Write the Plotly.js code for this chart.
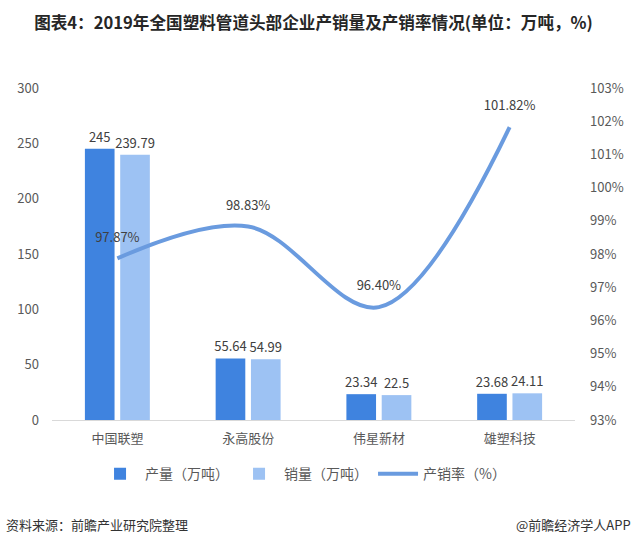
<!DOCTYPE html>
<html>
<head>
<meta charset="utf-8">
<script src="https://cdn.plot.ly/plotly-3.0.1.min.js"></script>
<style>html,body{margin:0;padding:0;background:#fff;}#chart{width:637px;height:545px;}</style>
</head>
<body>
<div id="chart"></div>
<script>
var categories = ['中国联塑', '永高股份', '伟星新材', '雄塑科技'];
var production = [245, 55.64, 23.34, 23.68];
var sales = [239.79, 54.99, 22.5, 24.11];
var rate = [0.9787, 0.9883, 0.9640, 1.0182];
var productionLabels = ['245', '55.64', '23.34', '23.68'];
var salesLabels = ['239.79', '54.99', '22.5', '24.11'];
var rateLabels = ['97.87%', '98.83%', '96.40%', '101.82%'];

var FONT = '"Noto Sans CJK SC", "Noto Sans", sans-serif';

var traces = [
  {
    type: 'bar', name: '产量（万吨）', x: categories, y: production,
    text: productionLabels, textposition: 'outside', cliponaxis: false, constraintext: 'none',
    textfont: {family: FONT, size: 13, color: '#404040'},
    marker: {color: '#3F83DF'}, hoverinfo: 'none'
  },
  {
    type: 'bar', name: '销量（万吨）', x: categories, y: sales,
    text: salesLabels, textposition: 'outside', cliponaxis: false, constraintext: 'none',
    textfont: {family: FONT, size: 13, color: '#404040'},
    marker: {color: '#9DC2F3'}, hoverinfo: 'none'
  },
  {
    type: 'scatter', mode: 'lines+markers+text', name: '产销率（%）', x: categories, y: rate,
    yaxis: 'y2', line: {color: '#6A9BDF', width: 4, shape: 'spline', smoothing: 1},
    marker: {size: 20, color: 'rgba(0,0,0,0)'},
    text: rateLabels, textposition: 'top center', cliponaxis: false,
    textfont: {family: FONT, size: 13, color: '#404040'}, hoverinfo: 'none'
  }
];

var layout = {
  width: 637, height: 545,
  margin: {l: 52, r: 62, t: 88, b: 125},
  paper_bgcolor: '#ffffff', plot_bgcolor: '#ffffff',
  font: {family: FONT, size: 13, color: '#595959'},
  title: {
    text: '<b>图表4：2019年全国塑料管道头部企业产销量及产销率情况(单位：万吨，%)</b>',
    font: {family: FONT, size: 16.6, color: '#262626'},
    x: 0.5, xanchor: 'center', y: 0.957, yanchor: 'middle', xref: 'paper'
  },
  barmode: 'group', bargap: 0.46, bargroupgap: 0.16,
  showlegend: true,
  legend: {
    orientation: 'h', x: 0.48, xanchor: 'center', y: -0.115, yanchor: 'top',
    font: {family: FONT, size: 14, color: '#595959'}, itemwidth: 40, traceorder: 'normal'
  },
  xaxis: {
    showgrid: false, showline: true, linecolor: '#d9d9d9', linewidth: 1,
    ticks: '', ticklabelstandoff: 6, tickfont: {family: FONT, size: 13, color: '#595959'}, fixedrange: true
  },
  yaxis: {
    range: [0, 300], dtick: 50, showgrid: false, zeroline: false, showline: false,
    ticks: '', ticklabelstandoff: 12, tickfont: {family: FONT, size: 13, color: '#595959'}, fixedrange: true
  },
  yaxis2: {
    overlaying: 'y', side: 'right', range: [0.93, 1.03], dtick: 0.01, tickformat: '.0%',
    showgrid: false, zeroline: false, showline: false, ticks: '', ticklabelstandoff: 14,
    tickfont: {family: FONT, size: 13, color: '#595959'}, fixedrange: true
  },
  annotations: [
    {text: '资料来源：前瞻产业研究院整理', xref: 'paper', yref: 'paper', x: -0.091, y: -0.315,
     xanchor: 'left', yanchor: 'middle', showarrow: false, font: {family: FONT, size: 13, color: '#333333'}},
    {text: '@前瞻经济学人APP', xref: 'paper', yref: 'paper', x: 1.11, y: -0.315,
     xanchor: 'right', yanchor: 'middle', showarrow: false, font: {family: FONT, size: 13, color: '#333333'}}
  ]
};

Plotly.newPlot('chart', traces, layout, {displayModeBar: false, staticPlot: true});
</script>
</body>
</html>
